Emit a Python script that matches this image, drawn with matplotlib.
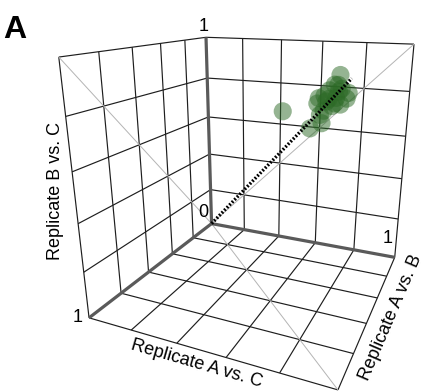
import numpy as np
import matplotlib
matplotlib.use("Agg")
import matplotlib.pyplot as plt

plt.rcParams["font.family"] = ["Liberation Sans", "DejaVu Sans"]

# correlation of sample pairs, one entry per gene set
a_vs_c = [0.80, 0.79, 0.83, 0.97, 0.95, 0.95, 0.88, 0.91, 0.90, 0.93, 0.95,
          0.90, 0.88, 0.85, 0.93, 0.95, 0.93, 0.91, 0.89, 0.92, 0.90, 0.94]
a_vs_b = [0.72, 0.81, 0.86, 0.95, 0.93, 0.97, 0.86, 0.89, 0.90, 0.93, 0.95,
          0.91, 0.88, 0.86, 0.96, 0.94, 0.91, 0.92, 0.89, 0.94, 0.87, 0.94]
b_vs_c = [0.84, 0.79, 0.82, 0.99, 0.96, 0.94, 0.89, 0.92, 0.91, 0.92, 0.95,
          0.89, 0.87, 0.85, 0.92, 0.96, 0.94, 0.90, 0.90, 0.90, 0.91, 0.94]
identity_range = [0.0, 0.985]
grid_ticks = [0.0, 0.2, 0.4, 0.6, 0.8, 1.0]

# simple pinhole camera looking at the centre of the unit cube
AZIM, ELEV, DIST = 23.8, 18.5, 2.17
FOCAL, CX, CY = 534.0, 257.8, 175.7
W, H = 425, 392

_a, _e = np.radians(AZIM), np.radians(ELEV)
_fwd = -np.array([np.cos(_e) * np.cos(_a), np.cos(_e) * np.sin(_a), np.sin(_e)])
_eye = np.array([0.5, 0.5, 0.5]) - DIST * _fwd
_right = np.cross(_fwd, [0, 0, 1])
_right /= np.linalg.norm(_right)
_up = np.cross(_right, _fwd)


def project(x, y, z):
    pts = np.column_stack([np.atleast_1d(x), np.atleast_1d(y), np.atleast_1d(z)]).astype(float)
    rel = pts - _eye
    depth = rel @ _fwd
    u = FOCAL * (rel @ _right) / depth + CX
    v = CY - FOCAL * (rel @ _up) / depth
    return u, v


def line3d(ax, p0, p1, **kw):
    u, v = project([p0[0], p1[0]], [p0[1], p1[1]], [p0[2], p1[2]])
    ax.plot(u, v, solid_capstyle="butt", **kw)


def edge_angle(p0, p1):
    u, v = project([p0[0], p1[0]], [p0[1], p1[1]], [p0[2], p1[2]])
    ang = np.degrees(np.arctan2(-(v[1] - v[0]), u[1] - u[0]))
    ang = (ang + 180) % 180
    return ang - 180 if ang > 90 else ang


fig = plt.figure(figsize=(W / 100, H / 100), dpi=100)
ax = fig.add_axes([0, 0, 1, 1])
ax.set_xlim(0, W)
ax.set_ylim(H, 0)
ax.axis("off")

grid_kw = dict(color="#1e1e1e", lw=0.85, zorder=1)
for t in grid_ticks[1:]:
    # left wall (A vs. C / B vs. C)
    line3d(ax, (t, 0, 0), (t, 0, 1), **grid_kw)
    line3d(ax, (0, 0, t), (1, 0, t), **grid_kw)
    # right wall (A vs. B / B vs. C)
    line3d(ax, (0, t, 0), (0, t, 1), **grid_kw)
    line3d(ax, (0, 0, t), (0, 1, t), **grid_kw)
    # floor (A vs. C / A vs. B)
    line3d(ax, (t, 0, 0), (t, 1, 0), **grid_kw)
    line3d(ax, (0, t, 0), (1, t, 0), **grid_kw)

diag_kw = dict(color="#b4b4b4", lw=0.7, zorder=1.5)
line3d(ax, (0, 0, 0), (1, 0, 1), **diag_kw)
line3d(ax, (0, 0, 0), (0, 1, 1), **diag_kw)
line3d(ax, (0, 0, 0), (1, 1, 0), **diag_kw)

axis_kw = dict(color="#5a5a5a", lw=2.3, zorder=2)
line3d(ax, (0, 0, 0), (1, 0, 0), **axis_kw)
line3d(ax, (0, 0, 0), (0, 1, 0), **axis_kw)
line3d(ax, (0, 0, 0), (0, 0, 1), **axis_kw)

u, v = project(a_vs_c, a_vs_b, b_vs_c)
ax.scatter(u, v, s=170, color="#2c6a26", alpha=0.5, edgecolors="none", zorder=3)

lo, hi = identity_range
line3d(ax, (lo, lo, lo), (hi, hi, hi), color="black", lw=2.4,
       linestyle=(0, (0.55, 0.55)), zorder=4)

tick_fs = 13
u0, v0 = project(0, 0, 0)
ax.annotate("0", (u0[0], v0[0]), xytext=(-3, 3), textcoords="offset pixels",
            ha="right", va="bottom", fontsize=tick_fs)
uz, vz = project(0, 0, 1)
ax.annotate("1", (uz[0], vz[0]), xytext=(-2, 2), textcoords="offset pixels",
            ha="center", va="bottom", fontsize=tick_fs)
ux, vx = project(1, 0, 0)
ax.annotate("1", (ux[0], vx[0]), xytext=(-6, 0), textcoords="offset pixels",
            ha="right", va="center", fontsize=tick_fs)
uy, vy = project(0, 1, 0)
ax.annotate("1", (uy[0], vy[0]), xytext=(-7, 10), textcoords="offset pixels",
            ha="center", va="bottom", fontsize=tick_fs)

label_fs = 13
um, vm = project(1, 0.5, 0)
ax.annotate("Replicate A vs. C", (um[0], vm[0]), xytext=(-4, -14),
            textcoords="offset pixels", ha="center", va="center",
            rotation=edge_angle((1, 0, 0), (1, 1, 0)), fontsize=label_fs)
um, vm = project(0.5, 1, 0)
ax.annotate("Replicate A vs. B", (um[0], vm[0]), xytext=(19, -7),
            textcoords="offset pixels", ha="center", va="center",
            rotation=edge_angle((1, 1, 0), (0, 1, 0)), fontsize=label_fs)
um, vm = project(1, 0, 0.5)
ax.annotate("Replicate B vs. C", (um[0], vm[0]), xytext=(-20, 7),
            textcoords="offset pixels", ha="center", va="center",
            rotation=90, fontsize=label_fs)

fig.text(3 / W, 1 - 38 / H, "A", fontsize=23, fontweight="bold",
         ha="left", va="baseline")

fig.savefig("out.png", dpi=100)
plt.close(fig)
